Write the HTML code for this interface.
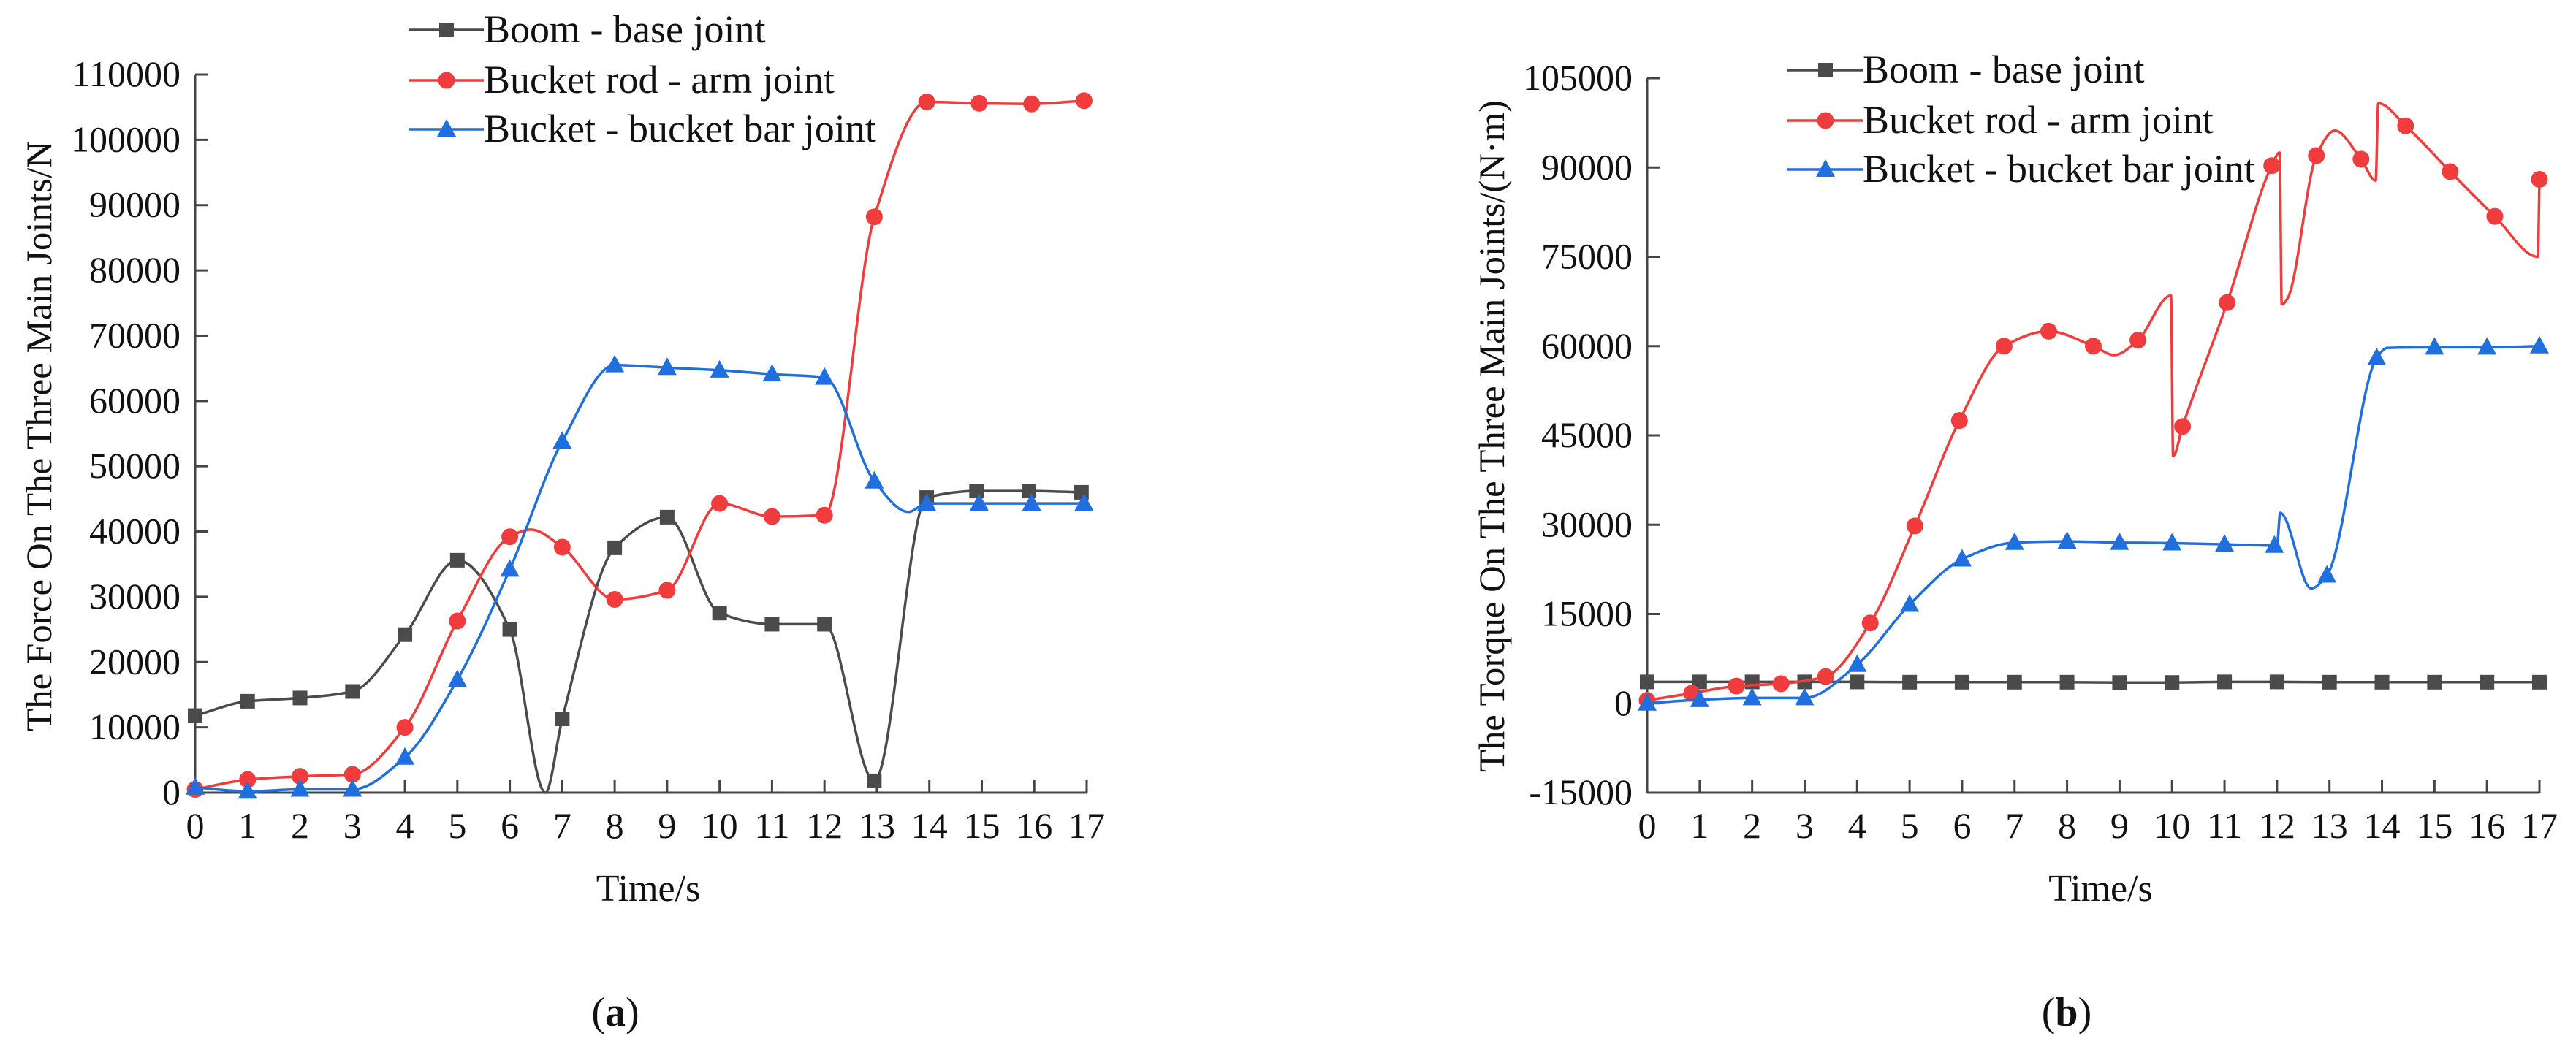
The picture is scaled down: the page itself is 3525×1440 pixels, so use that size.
<!DOCTYPE html>
<html><head><meta charset="utf-8">
<style>
html,body{margin:0;padding:0;background:#fff;}
svg{display:block;}
svg text{font-family:"Liberation Serif","Times New Roman",serif !important;}
</style></head>
<body>
<svg id="root" width="3525" height="1440" viewBox="0 0 3525 1440" xmlns="http://www.w3.org/2000/svg" font-family="Liberation Serif, serif">
<g id="chartA"></g>
<g id="chartB"></g>
</svg>
<script>
// ---------- Chart (a) data ----------
const aTicksX = [0,1,2,3,4,5,6,7,8,9,10,11,12,13,14,15,16,17];
const aTicksY = [0,10000,20000,30000,40000,50000,60000,70000,80000,90000,100000,110000];
const aBoomT = [0,1,2,3,4,5,6,6.68,7,8,9,10,11,12,12.95,13.95,14.9,15.9,16.9];
const aBoomV = [11800,14000,14500,15500,24200,35600,25000,0,11300,37500,42200,27500,25800,25800,1800,45200,46200,46200,46000];
const aBoomM = [1,1,1,1,1,1,1,0,1,1,1,1,1,1,1,1,1,1,1];
const aRodT = [0,1,2,3,4,5,6,6.4,7,8,9,10,11,12,12.95,13.95,14.95,15.95,16.95];
const aRodV = [500,2000,2500,2800,10000,26300,39200,40300,37600,29600,31000,44300,42300,42500,88200,105800,105600,105500,106000];
const aRodM = [1,1,1,1,1,1,1,0,1,1,1,1,1,1,1,1,1,1,1];
const aBarT = [0,1,2,3,4,5,6,7,8,9,10,11,12,12.95,13.6,13.95,14.95,15.95,16.95];
const aBarV = [800,200,500,500,5400,17300,34200,53800,65500,65100,64700,64100,63600,47700,43000,44300,44300,44300,44300];
const aBarM = [1,1,1,1,1,1,1,1,1,1,1,1,1,1,0,1,1,1,1];

// ---------- Chart (b) data ----------
const bTicksX = [0,1,2,3,4,5,6,7,8,9,10,11,12,13,14,15,16,17];
const bTicksY = [-15000,0,15000,30000,45000,60000,75000,90000,105000];
const bBoomT = [0,1,2,3,4,5,6,7,8,9,10,11,12,13,14,15,16,17];
const bBoomV = [3600,3600,3600,3600,3600,3550,3550,3550,3550,3500,3500,3600,3600,3550,3550,3550,3550,3550];
const bBoomM = [1,1,1,1,1,1,1,1,1,1,1,1,1,1,1,1,1,1];
const bRodT = [0,0.85,1.7,2.55,3.4,4.25,5.1,5.95,6.8,7.65,8.5,8.9,9.35,9.98,10.02,10.2,11.05,11.9,12.05,12.09,12.2,12.75,13.1,13.6,13.88,13.93,14.45,15.3,16.15,16.97,17];
const bRodV = [500,1700,2900,3300,4500,13500,29800,47500,60000,62500,60000,58500,61000,68500,41500,46500,67300,90300,92500,67000,68000,92000,96200,91400,87800,100800,97000,89300,81800,75000,88000];
const bRodM = [1,1,1,1,1,1,1,1,1,1,1,0,1,0,0,1,1,1,0,0,0,1,0,1,0,0,1,1,1,0,1];
const bBarT = [0,1,2,3,4,5,6,7,8,9,10,11,11.95,12.0,12.06,12.65,12.95,13.9,14.1,15,16,17];
const bBarV = [0,600,900,900,6500,16600,24200,27000,27200,27000,26900,26700,26500,26500,32000,19300,21500,58000,59700,59800,59800,60000];
const bBarM = [1,1,1,1,1,1,1,1,1,1,1,1,1,0,0,0,1,1,0,1,1,1];

const NS = "http://www.w3.org/2000/svg";
const GRAY = "#4b4b4b", RED = "#f03c3c", BLUE = "#1f6fde";
const FONT = "Liberation Serif, serif";

function el(tag, attrs, parent, text) {
  const e = document.createElementNS(NS, tag);
  for (const k in attrs) e.setAttribute(k, attrs[k]);
  if (tag === "text") e.setAttribute("font-family", FONT);
  if (text !== undefined) e.textContent = text;
  parent.appendChild(e);
  return e;
}

function monoPath(px, py) {
  const n = px.length;
  const d = [], m = new Array(n).fill(0);
  for (let i = 0; i < n - 1; i++) d.push((py[i+1]-py[i])/(px[i+1]-px[i]));
  m[0] = d[0]; m[n-1] = d[n-2];
  for (let i = 1; i < n - 1; i++) {
    if (d[i-1]*d[i] <= 0) m[i] = 0;
    else {
      const w1 = 2*(px[i+1]-px[i]) + (px[i]-px[i-1]);
      const w2 = (px[i+1]-px[i]) + 2*(px[i]-px[i-1]);
      m[i] = (w1+w2)/(w1/d[i-1] + w2/d[i]);
    }
  }
  let s = "M" + px[0].toFixed(1) + "," + py[0].toFixed(1);
  for (let i = 0; i < n - 1; i++) {
    const h = (px[i+1]-px[i])/3;
    s += " C" + (px[i]+h).toFixed(1) + "," + (py[i]+m[i]*h).toFixed(1) + " " +
         (px[i+1]-h).toFixed(1) + "," + (py[i+1]-m[i+1]*h).toFixed(1) + " " +
         px[i+1].toFixed(1) + "," + py[i+1].toFixed(1);
  }
  return s;
}

function marker(g, kind, x, y, color) {
  let e;
  if (kind === "square") e = el("rect", {x:x-10, y:y-10, width:20, height:20, fill:color}, g);
  else if (kind === "circle") e = el("circle", {cx:x, cy:y, r:11.5, fill:color}, g);
  else e = el("polygon", {points:`${x},${y-14} ${x+13},${y+10} ${x-13},${y+10}`, fill:color}, g);
  
  
}

function drawChart(g, cfg) {
  const X = t => cfg.x0 + (t - 0) * (cfg.x1 - cfg.x0) / 17;
  const Y = v => cfg.yb + (v - cfg.ymin) * (cfg.yt - cfg.yb) / (cfg.ymax - cfg.ymin);
  const ax = el("g", {}, g);
  
  
  const xl = el("line", {x1:cfg.x0, y1:cfg.yb, x2:cfg.x1, y2:cfg.yb, stroke:"#444", "stroke-width":3}, ax);
  
  
  const yl = el("line", {x1:cfg.x0, y1:cfg.yb, x2:cfg.x0, y2:cfg.yt, stroke:"#444", "stroke-width":3}, ax);
  
  
  cfg.ticksX.forEach(t => {
    el("line", {x1:X(t), y1:cfg.yb, x2:X(t), y2:cfg.yb-18, stroke:"#444", "stroke-width":3}, ax);
    const tx = el("text", {x:X(t), y:cfg.yb+62, "font-size":50, "text-anchor":"middle", fill:"#111"}, ax, String(t));
    
    
  });
  cfg.ticksY.forEach(v => {
    el("line", {x1:cfg.x0, y1:Y(v), x2:cfg.x0+18, y2:Y(v), stroke:"#444", "stroke-width":3}, ax);
    const ty = el("text", {x:cfg.x0-20, y:Y(v)+16, "font-size":50, "text-anchor":"end", fill:"#111"}, ax, String(v));
    
    
  });
  const xt = el("text", {x:(cfg.x0+cfg.x1)/2 + 10, y:1233, "font-size":52, "text-anchor":"middle", fill:"#111"}, g, "Time/s");
  
  
  const yt = el("text", {x:0, y:0, "font-size":50, "text-anchor":"middle", fill:"#111",
    transform:`translate(${cfg.ytx},${cfg.yty}) rotate(-90)`, textLength:cfg.ytLen, lengthAdjust:"spacingAndGlyphs"}, g, cfg.ytitle);
  
  
  const cap = el("text", {x:cfg.capx, y:1404, "font-size":56, "text-anchor":"middle", fill:"#111"}, g);
  
  
  el("tspan", {}, cap, "(");
  el("tspan", {"font-weight":"bold"}, cap, cfg.cap);
  el("tspan", {}, cap, ")");

  cfg.series.forEach(s => {
    const sg = el("g", {}, g);
    
    
    const px = s.t.map(X), py = s.v.map(Y);
    const p = el("path", {d:monoPath(px, py), fill:"none", stroke:s.color, "stroke-width":3.5, "stroke-linejoin":"round"}, sg);
    
    
    s.t.forEach((t, i) => { if (s.m[i]) marker(sg, s.kind, px[i], py[i], s.color); });
  });

  const lg = el("g", {}, g);
  
  
  cfg.series.forEach((s, i) => {
    const y = cfg.legY[i];
    const eg = el("g", {}, lg);
    
    
    el("line", {x1:cfg.legX, y1:y, x2:cfg.legX+103, y2:y, stroke:s.color, "stroke-width":3.5}, eg);
    marker(eg, s.kind, cfg.legX+52, y, s.color);
    el("text", {x:cfg.legX+103, y:y+17, "font-size":54, fill:"#111"}, eg, s.label);
  });
}

const labels = ["Boom - base joint","Bucket rod - arm joint","Bucket - bucket bar joint"];
drawChart(document.getElementById("chartA"), {
  x0:267, x1:1487, yb:1085, yt:102, ymin:0, ymax:110000,
  ticksX:aTicksX, ticksY:aTicksY,
  ytitle:"The Force On The Three Main Joints/N", ytx:70, yty:597, ytLen:808,
  cap:"a", capx:842, legX:559, legY:[41,110,177],
  series:[
    {name:"boom-base-series", t:aBoomT, v:aBoomV, m:aBoomM, color:GRAY, kind:"square", label:labels[0]},
    {name:"bucket-rod-series", t:aRodT, v:aRodV, m:aRodM, color:RED, kind:"circle", label:labels[1]},
    {name:"bucket-bar-series", t:aBarT, v:aBarV, m:aBarM, color:BLUE, kind:"triangle", label:labels[2]}
  ]
});
drawChart(document.getElementById("chartB"), {
  x0:2254, x1:3475, yb:1085, yt:107, ymin:-15000, ymax:105000,
  ticksX:bTicksX, ticksY:bTicksY,
  ytitle:"The Torque On The Three Main Joints/(N·m)", ytx:2058, yty:597, ytLen:920,
  cap:"b", capx:2828, legX:2446, legY:[96,165,232],
  series:[
    {name:"boom-base-series", t:bBoomT, v:bBoomV, m:bBoomM, color:GRAY, kind:"square", label:labels[0]},
    {name:"bucket-rod-series", t:bRodT, v:bRodV, m:bRodM, color:RED, kind:"circle", label:labels[1]},
    {name:"bucket-bar-series", t:bBarT, v:bBarV, m:bBarM, color:BLUE, kind:"triangle", label:labels[2]}
  ]
});
</script>
</body></html>
